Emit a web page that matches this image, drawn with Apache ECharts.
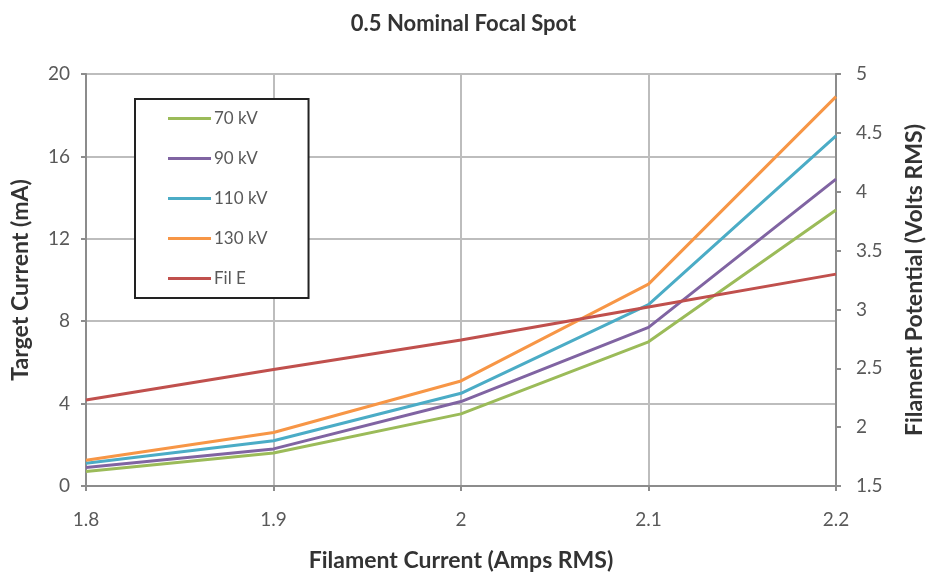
<!DOCTYPE html>
<html>
<head>
<meta charset="utf-8">
<script src="https://cdn.jsdelivr.net/npm/echarts@6/dist/echarts.min.js"></script>
<style>html,body{margin:0;padding:0;background:#fff}#c{width:927px;height:574px}</style>
</head>
<body>
<div id="c"></div>
<script>
const filamentCurrent = [1.8, 1.9, 2.0, 2.1, 2.2];
const kv70  = [0.7, 1.6, 3.5, 7.0, 13.4];
const kv90  = [0.9, 1.8, 4.1, 7.7, 14.9];
const kv110 = [1.1, 2.2, 4.5, 8.8, 17.0];
const kv130 = [1.25, 2.6, 5.1, 9.8, 18.9];
const filE  = [2.23, 2.49, 2.74, 3.02, 3.30];
const seriesNames = ['70 kV', '90 kV', '110 kV', '130 kV', 'Fil E'];
const colors = ['#9BBB59', '#8064A2', '#4BACC6', '#F79646', '#C0504D'];

const pairs = arr => filamentCurrent.map((x, i) => [x, arr[i]]);
const allData = [kv70, kv90, kv110, kv130, filE];

const chart = echarts.init(document.getElementById('c'));
const FONT = 'Lato';
const nameStyle = { fontFamily: FONT, fontSize: 23, fontWeight: 'bold', color: '#333' };
chart.setOption({
  animation: false,
  color: colors,
  textStyle: { fontFamily: FONT },
  title: {
    text: '0.5 Nominal Focal Spot',
    left: 'center',
    top: 8,
    textStyle: { fontFamily: FONT, fontSize: 22, fontWeight: 'bold', color: '#333' }
  },
  grid: { left: 86, right: 91, top: 74, bottom: 88, containLabel: false, outerBoundsMode: 'none' },
  legend: {
    orient: 'vertical',
    left: 135,
    top: 99,
    icon: 'rect',
    itemWidth: 43,
    itemHeight: 3,
    itemGap: 23,
    padding: [11, 41, 11, 33],
    borderColor: '#222',
    borderWidth: 2,
    backgroundColor: '#fff',
    textStyle: { fontFamily: FONT, fontSize: 17, color: '#595959', padding: [0, 0, 0, -2] },
    data: seriesNames
  },
  xAxis: {
    type: 'value',
    min: 1.8, max: 2.2, interval: 0.1,
    name: 'Filament Current (Amps RMS)',
    nameLocation: 'middle',
    nameGap: 63,
    nameTextStyle: nameStyle,
    axisLine: { lineStyle: { color: '#8c8c8c', width: 2 } },
    axisTick: { show: true, length: 5, lineStyle: { color: '#8c8c8c', width: 2 } },
    axisLabel: { fontSize: 19, color: '#595959', margin: 24, formatter: v => String(+v.toFixed(1)) },
    splitLine: { show: true, lineStyle: { color: '#bdbdbd', width: 2 } }
  },
  yAxis: [
    {
      type: 'value',
      min: 0, max: 20, interval: 4,
      name: 'Target Current (mA)',
      nameLocation: 'middle',
      nameRotate: 90,
      nameGap: 54,
      nameTextStyle: nameStyle,
      axisLine: { show: true, lineStyle: { color: '#8c8c8c', width: 2 } },
      axisTick: { show: true, length: 5, lineStyle: { color: '#8c8c8c', width: 2 } },
      axisLabel: { fontSize: 19, color: '#595959', margin: 16 },
      splitLine: { show: true, lineStyle: { color: '#bdbdbd', width: 2 } }
    },
    {
      type: 'value',
      min: 1.5, max: 5, interval: 0.5,
      position: 'right',
      name: 'Filament Potential (Volts RMS)',
      nameLocation: 'middle',
      nameRotate: 90,
      nameGap: 67,
      nameTextStyle: nameStyle,
      axisLine: { show: true, lineStyle: { color: '#8c8c8c', width: 2 } },
      axisTick: { show: true, length: 5, lineStyle: { color: '#8c8c8c', width: 2 } },
      axisLabel: { fontSize: 19, color: '#595959', margin: 20 },
      splitLine: { show: false }
    }
  ],
  series: seriesNames.map((name, i) => ({
    name,
    type: 'line',
    yAxisIndex: name === 'Fil E' ? 1 : 0,
    data: pairs(allData[i]),
    symbol: 'none',
    lineStyle: { width: 3, color: colors[i] },
    itemStyle: { color: colors[i] },
    z: name === 'Fil E' ? 3 : 2 + i * 0.1
  }))
});
</script>
</body>
</html>
